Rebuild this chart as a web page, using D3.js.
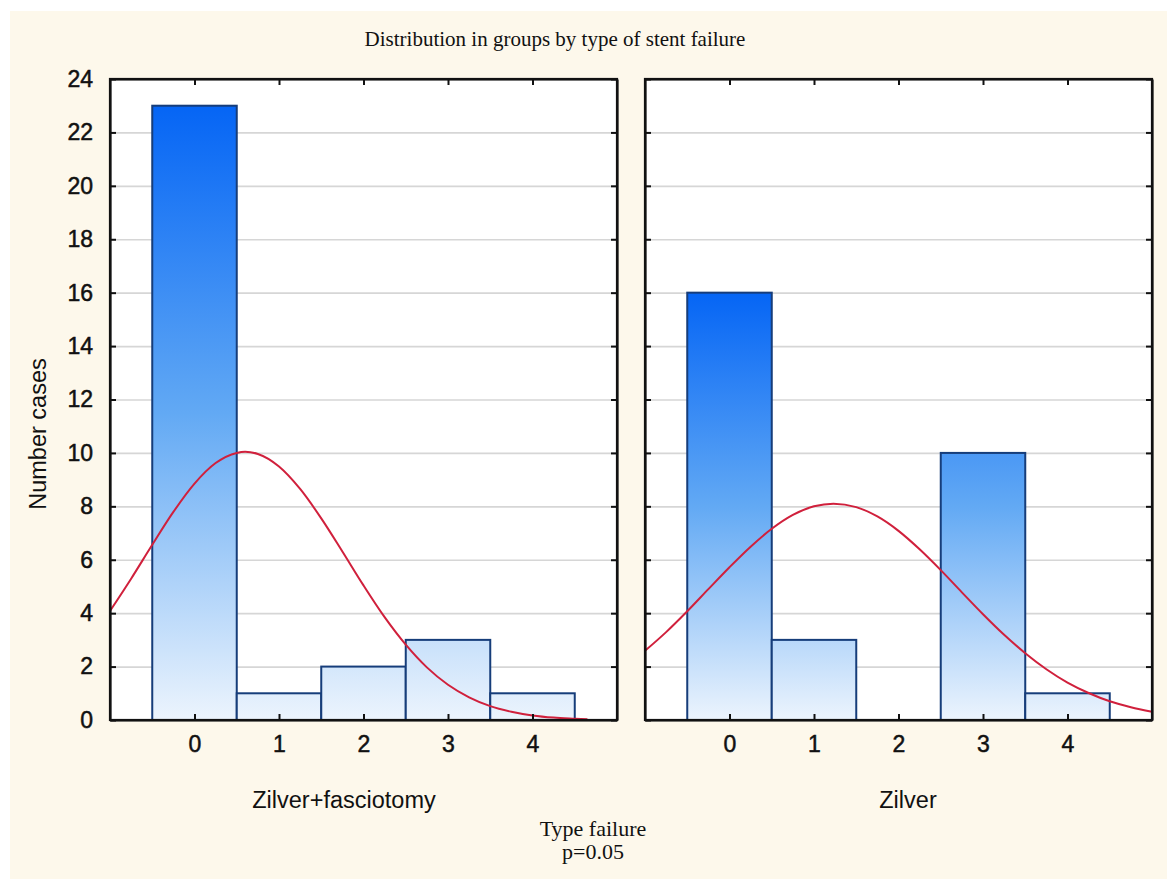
<!DOCTYPE html>
<html lang="en">
<head>
  <meta charset="UTF-8">
  <title>Distribution in groups by type of stent failure</title>
  <style>
    body {
      margin: 0;
      background: #ffffff;
    }
    .tick text {
      font-family: "Liberation Sans", Arial, sans-serif;
      font-size: 23px;
      fill: #111;
      stroke: #111;
      stroke-width: 0.5px;
    }
    .serif-label {
      font-family: "Liberation Serif", "Times New Roman", serif;
      font-size: 21px;
      fill: #111;
    }
    .sans-label {
      font-family: "Liberation Sans", Arial, sans-serif;
      font-size: 23.5px;
      fill: #111;
    }
  </style>
</head>
<body>
  <svg id="chart" width="1167" height="879"></svg>

  <script src="https://d3js.org/d3.v7.min.js"></script>
  <script>
    // Data
    const categories = [0, 1, 2, 3, 4];
    const groups = ["Zilver+fasciotomy", "Zilver"];
    const countsFasciotomy = [23, 1, 2, 3, 1];
    const countsZilver = [16, 3, 0, 10, 1];
    const yTicks = [0, 2, 4, 6, 8, 10, 12, 14, 16, 18, 20, 22, 24];

    // fitted normal curves as they appear in the picture
    const curveXFasciotomy = [-1, -0.75, -0.5, -0.25, 0, 0.25, 0.5, 0.6, 0.75, 1, 1.25, 1.5, 1.75, 2, 2.25, 2.5, 2.75, 3, 3.25, 3.5, 3.75, 4, 4.25, 4.5, 4.65];
    const curveYFasciotomy = [4.08, 5.29, 6.56, 7.79, 8.85, 9.62, 10.0, 10.04, 9.96, 9.49, 8.65, 7.55, 6.31, 5.04, 3.85, 2.82, 1.97, 1.32, 0.85, 0.52, 0.31, 0.17, 0.09, 0.05, 0.03];
    const curveXZilver = [-1, -0.75, -0.5, -0.25, 0, 0.25, 0.5, 0.75, 1, 1.23, 1.5, 1.75, 2, 2.25, 2.5, 2.75, 3, 3.25, 3.5, 3.75, 4, 4.25, 4.5, 4.75, 5];
    const curveYZilver = [2.59, 3.29, 4.07, 4.90, 5.72, 6.49, 7.16, 7.68, 8.00, 8.10, 7.97, 7.62, 7.08, 6.39, 5.61, 4.78, 3.96, 3.19, 2.50, 1.90, 1.40, 1.01, 0.70, 0.48, 0.31];

    const svg = d3.select("#chart");

    // cream page background with thin white edge
    svg.append("rect")
      .attr("x", 10).attr("y", 11)
      .attr("width", 1157).attr("height", 868)
      .attr("fill", "#fdf8eb");

    const plotTop = 79, plotBottom = 720;
    const panelLefts = [110, 645];
    const panelWidth = 507;

    const yScale = d3.scaleLinear().domain([0, 24]).range([plotBottom, plotTop]);

    const panels = [
      { name: groups[0], counts: countsFasciotomy, cx: curveXFasciotomy, cy: curveYFasciotomy, labelX: 344 },
      { name: groups[1], counts: countsZilver, cx: curveXZilver, cy: curveYZilver, labelX: 908 }
    ];

    const defs = svg.append("defs");

    panels.forEach((p, i) => {
      const x0 = panelLefts[i];
      const xScale = d3.scaleLinear().domain([-1, 5]).range([x0, x0 + panelWidth]);
      const g = svg.append("g");

      // plot area
      g.append("rect")
        .attr("x", x0).attr("y", plotTop)
        .attr("width", panelWidth).attr("height", plotBottom - plotTop)
        .attr("fill", "#ffffff");

      // gridlines
      g.append("g")
        .attr("transform", `translate(${x0},0)`)
        .call(d3.axisLeft(yScale).tickValues(yTicks).tickSize(-panelWidth).tickFormat(""))
        .call(s => s.select(".domain").remove())
        .call(s => s.selectAll("line").attr("stroke", "#d6d6d6").attr("stroke-width", 1.6));

      // gradient tied to the tallest bar in the panel
      const maxC = d3.max(p.counts);
      const gradId = "grad" + i;
      const grad = defs.append("linearGradient")
        .attr("id", gradId)
        .attr("gradientUnits", "userSpaceOnUse")
        .attr("x1", 0).attr("x2", 0)
        .attr("y1", yScale(maxC)).attr("y2", yScale(0));
      grad.append("stop").attr("offset", "0%").attr("stop-color", "#0565f5");
      grad.append("stop").attr("offset", "50%").attr("stop-color", "#62a9f4");
      grad.append("stop").attr("offset", "100%").attr("stop-color", "#ecf4fd");

      // bars
      g.selectAll(".bar")
        .data(categories.map((c, k) => ({ c, v: p.counts[k] })).filter(d => d.v > 0))
        .enter().append("rect")
        .attr("class", "bar")
        .attr("x", d => xScale(d.c - 0.5))
        .attr("y", d => yScale(d.v))
        .attr("width", d => xScale(d.c + 0.5) - xScale(d.c - 0.5))
        .attr("height", d => yScale(0) - yScale(d.v))
        .attr("fill", `url(#${gradId})`)
        .attr("stroke", "#163d7a")
        .attr("stroke-width", 2);

      // normal curve
      const line = d3.line()
        .x(d => xScale(d[0]))
        .y(d => yScale(d[1]))
        .curve(d3.curveMonotoneX);
      g.append("path")
        .datum(p.cx.map((x, k) => [x, p.cy[k]]))
        .attr("fill", "none")
        .attr("stroke", "#d0203c")
        .attr("stroke-width", 2)
        .attr("d", line);

      // axes with inward ticks
      const axes = g.append("g").attr("class", "axes");

      const leftAxis = axes.append("g")
        .attr("transform", `translate(${x0},0)`)
        .call(d3.axisLeft(yScale).tickValues(yTicks).tickFormat(d3.format("d"))
          .tickSizeInner(-6).tickSizeOuter(0).tickPadding(17));
      if (i > 0) leftAxis.selectAll("text").remove();

      axes.append("g")
        .attr("transform", `translate(${x0 + panelWidth},0)`)
        .call(d3.axisRight(yScale).tickValues(yTicks).tickSizeInner(-6).tickSizeOuter(0).tickFormat(""));

      axes.append("g")
        .attr("transform", `translate(0,${plotBottom})`)
        .call(d3.axisBottom(xScale).tickValues(categories).tickFormat(d3.format("d"))
          .tickSizeInner(-6).tickSizeOuter(0).tickPadding(16));

      axes.append("g")
        .attr("transform", `translate(0,${plotTop})`)
        .call(d3.axisTop(xScale).tickValues(categories).tickSizeInner(-6).tickSizeOuter(0).tickFormat(""));

      axes.selectAll(".domain").attr("stroke", "#111").attr("stroke-width", 2.2);
      axes.selectAll(".tick line").attr("stroke", "#111").attr("stroke-width", 2);

      // panel border
      g.append("rect")
        .attr("x", x0).attr("y", plotTop)
        .attr("width", panelWidth).attr("height", plotBottom - plotTop)
        .attr("fill", "none")
        .attr("stroke", "#111")
        .attr("stroke-width", 2.2);

      // group label
      g.append("text")
        .attr("class", "sans-label")
        .attr("x", p.labelX)
        .attr("y", 808)
        .attr("text-anchor", "middle")
        .text(p.name);
    });

    // title
    svg.append("text")
      .attr("class", "serif-label")
      .attr("x", 555).attr("y", 46)
      .attr("text-anchor", "middle")
      .text("Distribution in groups by type of stent failure");

    // y label
    svg.append("text")
      .attr("class", "sans-label")
      .attr("transform", "translate(46,434) rotate(-90)")
      .attr("text-anchor", "middle")
      .text("Number cases");

    // x label
    svg.append("text")
      .attr("class", "serif-label")
      .style("font-size", "22px")
      .attr("x", 593).attr("y", 836)
      .attr("text-anchor", "middle")
      .text("Type failure");
    svg.append("text")
      .attr("class", "serif-label")
      .style("font-size", "22px")
      .attr("x", 593).attr("y", 859)
      .attr("text-anchor", "middle")
      .text("p=0.05");
  </script>
</body>
</html>
